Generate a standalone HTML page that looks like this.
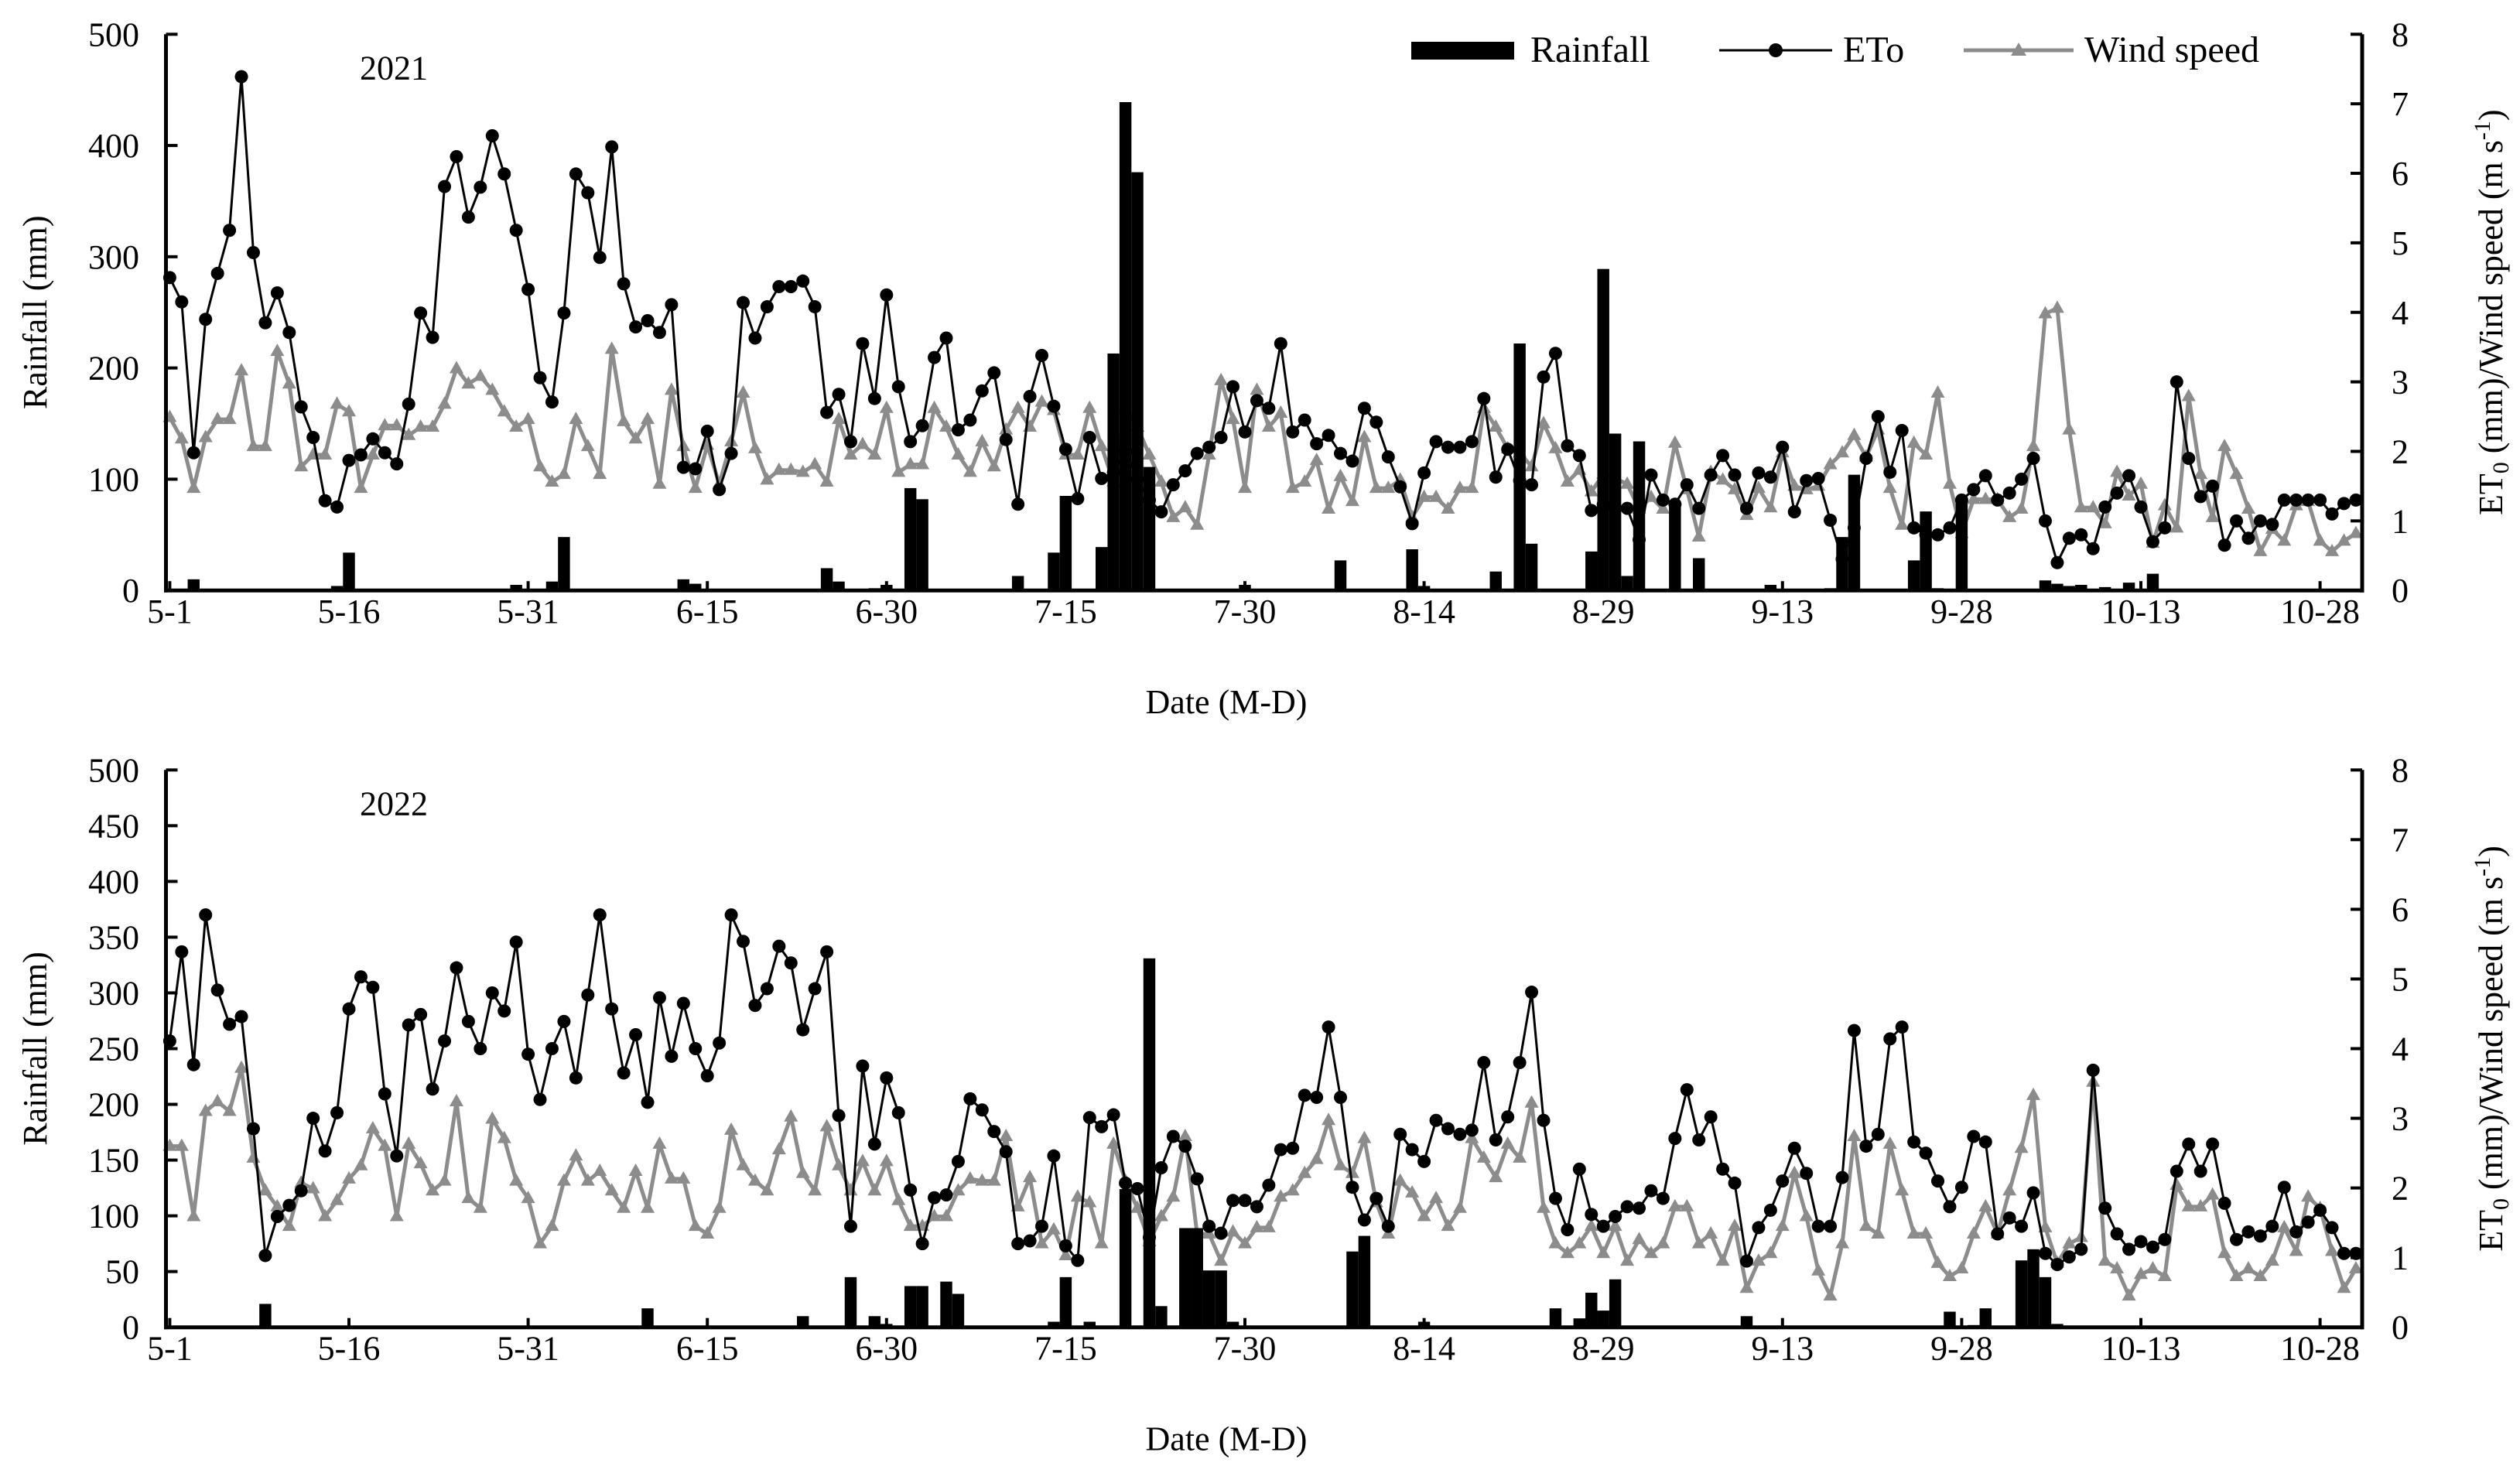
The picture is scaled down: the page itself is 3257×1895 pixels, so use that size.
<!DOCTYPE html>
<html>
<head>
<meta charset="utf-8">
<style>
html,body{margin:0;padding:0;background:#fff;}
svg{display:block;}
text{font-family:"Liberation Serif","Times New Roman",serif;fill:#000;}
</style>
</head>
<body>
<svg id="chart" xmlns="http://www.w3.org/2000/svg" width="3257" height="1895" viewBox="0 0 3257 1895">
<rect x="0" y="0" width="3257" height="1895" fill="#fff"/>
<g id="legend">
  <rect x="1824" y="54" width="133" height="23" fill="#000"/>
  <text x="1978" y="80" font-size="48">Rainfall</text>
  <line x1="2222" y1="65" x2="2368" y2="65" stroke="#000" stroke-width="3"/>
  <circle cx="2295" cy="65" r="9" fill="#000"/>
  <text x="2382" y="80" font-size="48">ETo</text>
  <line x1="2538" y1="65" x2="2680" y2="65" stroke="#8c8c8c" stroke-width="5"/>
  <polygon points="2609,55 2619,72 2599,72" fill="#8c8c8c"/>
  <text x="2694" y="80" font-size="48">Wind speed</text>
</g>
</svg>
<script>
const tickDates = ["5-1","5-16","5-31","6-15","6-30","7-15","7-30","8-14","8-29","9-13","9-28","10-13","10-28"];
const tickDays = [0,15,30,45,60,75,90,105,120,135,150,165,180];

const eto2021 = [4.5,4.15,1.98,3.9,4.56,5.18,7.39,4.86,3.85,4.28,3.71,2.64,2.2,1.29,1.2,1.87,1.95,2.18,1.98,1.82,2.68,3.99,3.64,5.81,6.24,5.37,5.8,6.54,5.99,5.18,4.33,3.06,2.71,3.99,5.99,5.72,4.79,6.38,4.41,3.79,3.88,3.71,4.11,1.77,1.75,2.29,1.45,
1.97,4.14,3.63,4.08,4.37,4.37,4.45,4.08,2.56,2.82,2.14,3.55,2.76,4.25,2.93,2.14,2.37,3.35,3.63,2.31,2.45,2.87,3.13,2.17,1.24,2.79,3.38,2.65,2.03,1.32,2.20,1.61,1.7,2.0,1.6,1.3,1.13,1.52,1.72,1.97,2.06,2.20,2.93,2.28,2.73,2.62,3.55,2.28,
2.45,2.11,2.23,1.97,1.86,2.62,2.42,1.92,1.49,0.96,1.69,2.14,2.06,2.06,2.14,2.76,1.63,2.03,1.58,1.52,3.07,3.41,2.08,1.94,1.15,1.24,1.18,1.18,0.73,1.66,1.30,1.24,1.52,1.18,1.66,1.94,1.66,1.18,1.69,1.63,2.06,1.13,1.58,1.61,1.01,0.45,0.9,
1.9,2.5,1.7,2.3,0.9,0.8,0.8,0.9,1.3,1.45,1.65,1.3,1.4,1.6,1.9,1.0,0.4,0.75,0.8,0.6,1.2,1.4,1.65,1.2,0.7,0.9,3.0,1.9,1.35,1.5,0.65,1.0,0.75,1.0,0.95,1.3,1.3,1.3,1.3,1.1,1.25,1.3];

const wind2021 = [2.49,2.18,1.47,2.2,2.46,2.46,3.16,2.07,2.07,3.44,2.97,1.78,1.95,1.95,2.68,2.57,1.47,1.95,2.37,2.37,2.23,2.35,2.35,2.68,3.19,2.97,3.08,2.88,2.57,2.35,2.46,1.78,1.56,1.67,2.46,2.07,1.67,3.47,2.43,2.18,2.46,1.53,2.88,2.07,1.47,2.09,1.53,
2.14,2.84,2.04,1.59,1.73,1.73,1.7,1.81,1.56,2.46,1.95,2.1,1.95,2.62,1.7,1.81,1.81,2.62,2.35,1.95,1.7,2.14,1.78,2.31,2.62,2.35,2.71,2.59,1.95,1.95,2.62,2.07,1.56,2.62,2.35,1.95,1.56,1.05,1.19,0.94,1.95,3.02,2.46,1.47,2.88,2.35,2.55,1.47,
1.56,1.87,1.17,1.64,1.28,2.2,1.47,1.47,1.59,1.05,1.34,1.34,1.17,1.47,1.47,2.62,2.35,2.04,1.98,1.78,2.4,2.04,1.56,1.73,1.42,1.67,1.61,1.53,1.17,1.34,1.17,2.12,1.45,0.77,1.7,1.59,1.45,1.08,1.47,1.19,1.98,1.5,1.45,1.5,1.81,1.98,2.23,1.92,2.31,
1.47,0.94,2.12,1.95,2.84,1.53,0.82,1.31,1.31,1.31,1.05,1.17,2.07,3.98,4.06,2.31,1.19,1.19,0.96,1.7,1.36,1.53,0.68,1.22,0.9,2.79,1.67,1.05,2.07,1.67,1.17,0.56,0.88,0.71,1.22,1.28,0.71,0.56,0.71,0.82];

const rain2021Days = [2,14,15,29,32,33,43,44,55,56,59,60,62,63,71,74,75,78,79,80,81,82,90,98,104,105,111,113,114,119,120,121,122,123,126,128,134,139,140,141,146,147,148,150,157,158,159,160,162,164,166];
const rain2021Mm = [10,4,34,5,8,48,10,6,20,8,2,5,92,82,13,34,85,39,213,439,376,111,5,27,37,4,17,222,42,35,289,141,13,134,78,29,5,2,48,104,27,71,2,78,9,6,4,5,3,7,15];

const eto2022 = [4.11,5.39,3.77,5.92,4.84,4.35,4.46,2.85,1.03,1.59,1.75,1.96,3.0,2.53,3.08,4.57,5.03,4.88,3.35,2.46,4.34,4.49,3.42,4.11,5.16,4.39,4.0,4.8,4.54,5.53,3.92,3.27,4.0,4.39,3.58,4.77,5.92,4.57,3.65,4.2,3.23,4.73,3.89,4.65,4.0,3.61,4.08,
5.92,5.54,4.62,4.86,5.47,5.23,4.27,4.86,5.39,3.04,1.45,3.75,2.63,3.58,3.08,1.97,1.2,1.86,1.9,2.38,3.28,3.12,2.81,2.52,1.2,1.24,1.45,2.46,1.17,0.96,3.01,2.88,3.05,2.07,1.99,1.29,2.29,2.74,2.6,2.13,1.45,1.35,1.82,1.82,1.73,2.04,2.55,2.57,
3.33,3.3,4.31,3.3,2.01,1.54,1.85,1.45,2.77,2.55,2.38,2.97,2.85,2.77,2.83,3.8,2.69,3.02,3.8,4.81,2.97,1.85,1.4,2.27,1.62,1.45,1.59,1.73,1.71,1.96,1.85,2.71,3.41,2.69,3.02,2.27,2.07,0.95,1.43,1.68,2.1,2.57,2.21,1.45,1.45,2.15,4.26,2.6,2.77,
4.14,4.31,2.66,2.5,2.1,1.73,2.01,2.74,2.66,1.34,1.57,1.45,1.93,1.06,0.9,1.01,1.12,3.69,1.71,1.34,1.12,1.23,1.15,1.26,2.24,2.63,2.24,2.63,1.78,1.26,1.37,1.31,1.45,2.01,1.37,1.51,1.68,1.43,1.06,1.06];

const wind2022 = [2.6,2.6,1.59,3.1,3.24,3.1,3.72,2.43,1.96,1.73,1.45,2.07,1.99,1.59,1.82,2.13,2.32,2.85,2.6,1.59,2.63,2.35,1.96,2.1,3.24,1.85,1.71,2.99,2.71,2.1,1.85,1.2,1.45,2.1,2.46,2.1,2.24,1.96,1.71,2.24,1.71,2.63,2.13,2.13,1.45,1.34,1.71,
2.83,2.32,2.1,1.96,2.55,3.02,2.21,1.96,2.88,2.32,1.96,2.38,1.96,2.38,1.82,1.45,1.45,1.59,1.59,1.96,2.13,2.1,2.1,2.74,1.73,2.15,1.2,1.4,1.03,1.87,1.79,1.2,2.63,2.1,1.71,1.23,1.59,1.87,2.74,1.34,1.34,0.95,1.37,1.2,1.43,1.43,1.87,1.96,
2.21,2.41,2.97,2.32,2.21,2.71,1.79,1.34,2.1,1.93,1.59,1.85,1.45,1.71,2.71,2.43,2.15,2.63,2.43,3.22,1.71,1.2,1.06,1.2,1.45,1.06,1.45,0.95,1.26,1.06,1.2,1.73,1.73,1.2,1.34,0.95,1.45,0.56,0.95,1.06,1.45,2.21,1.59,0.81,0.45,1.2,2.74,1.45,1.34,
2.63,1.96,1.34,1.34,0.92,0.73,0.84,1.34,1.73,1.34,1.96,2.57,3.33,1.43,0.92,1.2,1.29,3.52,0.95,0.84,0.45,0.76,0.84,0.73,2.04,1.73,1.73,1.9,1.06,0.73,0.84,0.73,0.95,1.43,1.09,1.87,1.71,1.09,0.56,0.84];

const rain2022Days = [8,40,53,57,59,60,62,63,65,66,74,75,77,80,82,83,85,86,87,88,89,99,100,105,116,118,119,120,121,132,149,151,152,155,156,157,158];
const rain2022Mm = [21,17,10,45,10,3,37,37,41,30,5,45,5,124,331,19,89,89,51,51,5,68,82,5,17,8,31,15,43,10,14,2,17,60,70,45,3];

const leftTicks2021 = [0,100,200,300,400,500];
const leftTicks2022 = [0,50,100,150,200,250,300,350,400,450,500];
const rightTicks = [0,1,2,3,4,5,6,7,8];

const NS = "http://www.w3.org/2000/svg";
const svg = document.getElementById("chart");
function mk(tag, attrs, parent) {
  const e = document.createElementNS(NS, tag);
  for (const k in attrs) e.setAttribute(k, attrs[k]);
  (parent || svg).appendChild(e);
  return e;
}

const X0 = 219.4, DX = 15.44, AXL = 214.5, AXR = 3053;
function xScale(d) { return X0 + d * DX; }

function panel(cfg) {
  const g = mk("g", {});
  
  
  const yL = v => cfg.y0 - (v / 500) * (cfg.y0 - cfg.yTop);
  const yR = v => cfg.y0 - (v / 8) * (cfg.y0 - cfg.yTop);

  // wind line
  const wp = cfg.wind.map((v, i) => xScale(i).toFixed(1) + "," + yR(v).toFixed(1)).join(" ");
  const wl = mk("polyline", {points: wp, fill: "none", stroke: "#8c8c8c", "stroke-width": 5, "stroke-linejoin": "round"}, g);
  
  
  cfg.wind.forEach((v, i) => {
    const cx = xScale(i), cy = yR(v);
    const t = mk("polygon", {points: `${cx},${cy-10} ${cx+9},${cy+6} ${cx-9},${cy+6}`, fill: "#8c8c8c"}, g);
    
    
  });
  // eto line
  const ep = cfg.eto.map((v, i) => xScale(i).toFixed(1) + "," + yR(v).toFixed(1)).join(" ");
  const el = mk("polyline", {points: ep, fill: "none", stroke: "#000", "stroke-width": 3, "stroke-linejoin": "round"}, g);
  
  
  cfg.eto.forEach((v, i) => {
    const c = mk("circle", {cx: xScale(i), cy: yR(v), r: 8.5, fill: "#000"}, g);
    
    
  });
  // rainfall bars
  cfg.rainDays.forEach((d, i) => {
    const top = yL(cfg.rainMm[i]);
    const b = mk("rect", {x: xScale(d) - DX / 2, y: top, width: DX, height: cfg.y0 - top, fill: "#000"}, g);
    
    
  });
  // axes
  const la = mk("line", {x1: AXL, y1: cfg.yTop, x2: AXL, y2: cfg.y0 + 2.5, stroke: "#000", "stroke-width": 5}, g);
  
  
  const ra = mk("line", {x1: AXR, y1: cfg.yTop, x2: AXR, y2: cfg.y0 + 2.5, stroke: "#000", "stroke-width": 5}, g);
  
  
  const xa = mk("line", {x1: AXL - 2.5, y1: cfg.y0, x2: AXR + 2.5, y2: cfg.y0, stroke: "#000", "stroke-width": 5}, g);
  
  
  cfg.leftTicks.forEach(v => {
    const y = yL(v);
    const tk = mk("line", {x1: AXL, y1: y, x2: AXL + 15, y2: y, stroke: "#000", "stroke-width": 4}, g);
    
    
    const tl = mk("text", {x: 180, y: y + 15, "font-size": 44, "text-anchor": "end"}, g);
    tl.textContent = v;
    
    
  });
  rightTicks.forEach(v => {
    const y = yR(v);
    const tk = mk("line", {x1: AXR - 15, y1: y, x2: AXR, y2: y, stroke: "#000", "stroke-width": 4}, g);
    
    
    const tl = mk("text", {x: 3102, y: y + 15, "font-size": 44, "text-anchor": "middle"}, g);
    tl.textContent = v;
    
    
  });
  tickDays.forEach((d, i) => {
    const x = xScale(d);
    const tk = mk("line", {x1: x, y1: cfg.y0, x2: x, y2: cfg.y0 - 12, stroke: "#000", "stroke-width": 4}, g);
    
    
    const tl = mk("text", {x: x, y: cfg.y0 + 42, "font-size": 44, "text-anchor": "middle"}, g);
    tl.textContent = tickDates[i];
    
    
  });
  const xt = mk("text", {x: 1585, y: cfg.y0 + 159, "font-size": 44, "text-anchor": "middle"}, g);
  xt.textContent = "Date (M-D)";
  
  
  const yr = mk("text", {x: 509, y: cfg.yTop + 58, "font-size": 44, "text-anchor": "middle"}, g);
  yr.textContent = cfg.year;
  
  
  const cy = (cfg.yTop + cfg.y0) / 2;
  const lt = mk("text", {x: 0, y: 0, "font-size": 44, "text-anchor": "middle", transform: `translate(60,${cy}) rotate(-90)`}, g);
  lt.textContent = "Rainfall  (mm)";
  
  
  const rt = mk("text", {x: 0, y: 0, "font-size": 44, "text-anchor": "middle", transform: `translate(3234,${cy}) rotate(-90)`}, g);
  rt.innerHTML = 'ET<tspan font-size="30" dy="8">0</tspan><tspan dy="-8"> (mm)/Wind  speed (m s</tspan><tspan font-size="30" dy="-16">-1</tspan><tspan dy="16">)</tspan>';
  
  
}

panel({name: "panel-2021", year: "2021", yTop: 44.3, y0: 763.2, eto: eto2021, wind: wind2021, rainDays: rain2021Days, rainMm: rain2021Mm, leftTicks: leftTicks2021});
panel({name: "panel-2022", year: "2022", yTop: 995.3, y0: 1715.7, eto: eto2022, wind: wind2022, rainDays: rain2022Days, rainMm: rain2022Mm, leftTicks: leftTicks2022});
svg.appendChild(document.getElementById("legend"));
</script>
</body>
</html>
